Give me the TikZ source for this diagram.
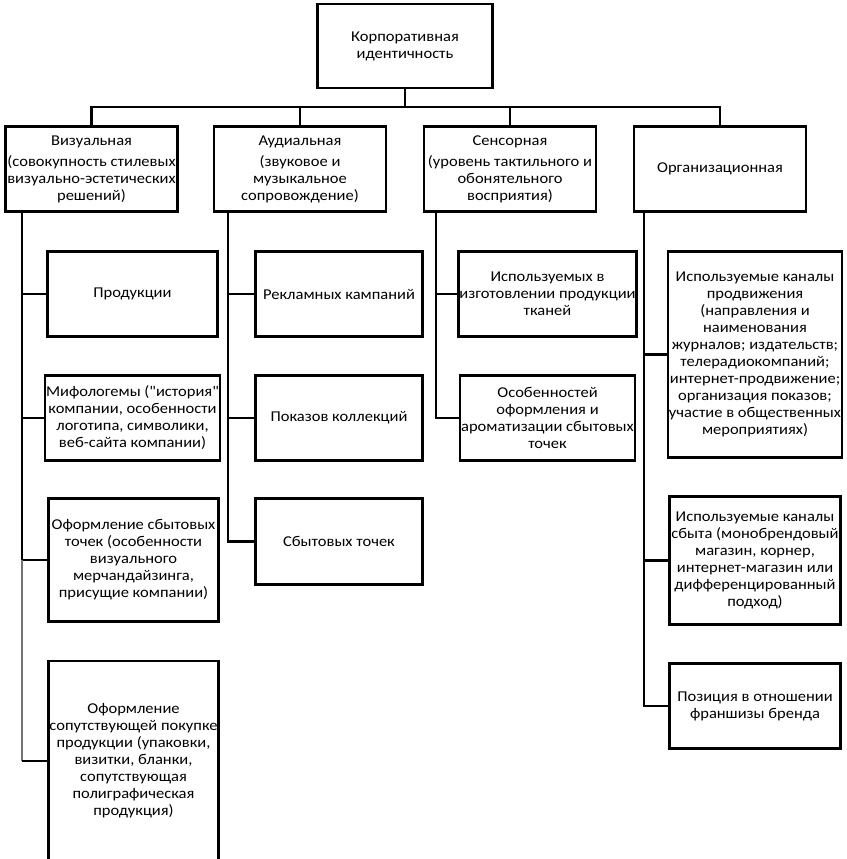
\documentclass[tikz,border=0pt]{standalone}
\usepackage{fontspec}
\setmainfont{Carlito}[Ligatures=TeXOff,FakeStretch=1.1]
\begin{document}
\begin{tikzpicture}[x=1pt,y=-1pt,
  box/.style={draw=black,line width=2.6pt,fill=white,align=center,inner sep=1pt,
    font=\fontsize{15}{17}\selectfont},
  con/.style={line width=2.8pt,black}]
\useasboundingbox (0,0) rectangle (846,859);
\clip (0,0) rectangle (846,859);
% top
\node[box,minimum width=175pt,minimum height=84pt] (top) at (405,46) {Корпоративная\\идентичность};
% categories
\node[box,minimum width=172pt,minimum height=85pt] (vis) at (91.5,169) {Визуальная\\[4pt](совокупность стилевых\\визуально-эстетических\\решений)};
\node[box,minimum width=172pt,minimum height=85pt] (aud) at (300,169) {Аудиальная\\[4pt](звуковое и\\музыкальное\\сопровождение)};
\node[box,minimum width=172pt,minimum height=85pt] (sen) at (510,169) {Сенсорная\\[4pt](уровень тактильного и\\обонятельного\\восприятия)};
\node[box,minimum width=172pt,minimum height=85pt] (org) at (720,169) {\raisebox{-6pt}{Организационная}};
% visual column
\node[box,minimum width=170pt,minimum height=85pt] (prod) at (132.5,294) {Продукции};
\node[box,minimum width=170pt,minimum height=85pt] (mif) at (132.5,418) {Мифологемы ("история"\\компании, особенности\\логотипа, символики,\\веб-сайта компании)};
\node[box,minimum width=170pt,minimum height=123pt] (ofs) at (133.5,560) {Оформление сбытовых\\точек (особенности\\визуального\\мерчандайзинга,\\присущие компании)};
\node[box,minimum width=170pt,minimum height=200pt] (ofp) at (133.5,761) {Оформление\\сопутствующей покупке\\продукции (упаковки,\\визитки, бланки,\\сопутствующая\\полиграфическая\\продукция)};
% audial column
\node[box,minimum width=167pt,minimum height=85pt] (rek) at (339,294) {Рекламных кампаний};
\node[box,minimum width=167pt,minimum height=85pt] (pok) at (339,418) {Показов коллекций};
\node[box,minimum width=167pt,minimum height=86pt] (sbt) at (339,541.5) {Сбытовых точек};
% sensory column
\node[box,minimum width=168pt,minimum height=85pt] (isp) at (547.5,294) {Используемых в\\изготовлении продукции\\тканей};
\node[box,minimum width=168pt,minimum height=85pt] (osb) at (547.5,418) {Особенностей\\оформления и\\ароматизации сбытовых\\точек};
% organisational column
\node[box,minimum width=171pt,minimum height=206pt] (o1) at (755,354.5) {Используемые каналы\\продвижения\\(направления и\\наименования\\журналов; издательств;\\телерадиокомпаний;\\интернет-продвижение;\\организация показов;\\участие в общественных\\мероприятиях)};
\node[box,minimum width=171pt,minimum height=128pt] (o2) at (755,560.5) {Используемые каналы\\сбыта (монобрендовый\\магазин, корнер,\\интернет-магазин или\\дифференцированный\\подход)};
\node[box,minimum width=171pt,minimum height=85pt] (o3) at (755,706) {Позиция в отношении\\франшизы бренда};
% bus
\coordinate (bus) at (405,107);
\draw[con] (top.south) -- (bus);
\draw[con] (vis.north) |- (bus) -| (org.north);
\draw[con] (aud.north) -- (aud.north |- bus);
\draw[con] (sen.north) -- (sen.north |- bus);
% column spines
\coordinate (vs) at (22,213);
\coordinate (as) at (228,213);
\coordinate (ss) at (436,213);
\coordinate (os) at (644,213);
\draw[con] (vs) |- (ofs.west);
\draw[line width=1.8pt,black!55] (vs |- ofs.west) -- (vs |- ofp.west);
\draw[con] (vs |- ofp.west) -- (ofp.west);
\draw[con] (vs |- prod.west) -- (prod.west);
\draw[con] (vs |- mif.west) -- (mif.west);
\draw[con] (as) |- (sbt.west);
\draw[con] (as |- rek.west) -- (rek.west);
\draw[con] (as |- pok.west) -- (pok.west);
\draw[con] (ss) |- (osb.west);
\draw[con] (ss |- isp.west) -- (isp.west);
\draw[con] (os) |- (o3.west);
\draw[con] (os |- o1.west) -- (o1.west);
\draw[con] (os |- o2.west) -- (o2.west);
\end{tikzpicture}
\end{document}
